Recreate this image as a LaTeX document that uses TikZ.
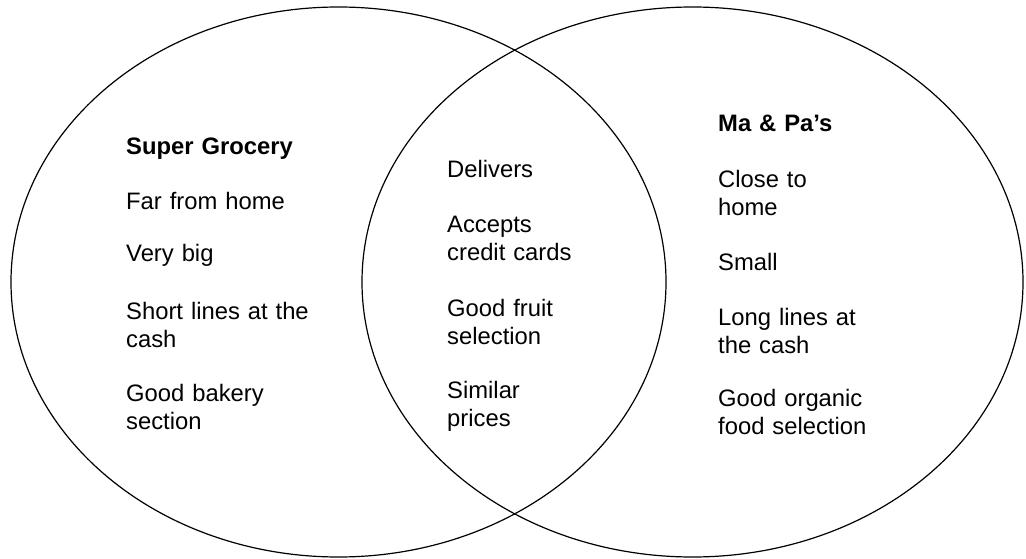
\documentclass[tikz,border=0pt]{standalone}
\usepackage{fontspec}
\setmainfont{Liberation Sans}
\begin{document}
\begin{tikzpicture}[x=1pt,y=-1pt,
  set/.style={draw=black,line width=1.2pt},
  lbl/.style={anchor=base west,inner sep=0pt,text width=200pt,align=left,font=\fontsize{23.8}{28}\selectfont},
  head/.style={lbl,font=\fontsize{23.8}{28}\selectfont\bfseries}]
\useasboundingbox[fill=white] (0,0) rectangle (1026,559);
\draw[set] (338.5,282) ellipse [x radius=327.5, y radius=275];
\draw[set] (692.5,282) ellipse [x radius=330.5, y radius=275];
% left set
\node[head] (sg) at (126,155) {Super Grocery};
\node[lbl] (far) at (126,209) {Far from home};
\node[lbl] (big) at (126,261) {Very big};
\node[lbl] (short) at (126,319) {Short lines at the\\cash};
\node[lbl] (bake) at (126,401) {Good bakery\\section};
% both
\node[lbl] (del) at (447,178) {Delivers};
\node[lbl] (acc) at (447,233) {Accepts\\credit cards};
\node[lbl] (fruit) at (447,316) {Good fruit\\selection};
\node[lbl] (sim) at (447,398) {Similar\\prices};
% right set
\node[head] (mp) at (718,132) {Ma \& Pa’s};
\node[lbl] (close) at (718,188) {Close to\\home};
\node[lbl] (small) at (718,270) {Small};
\node[lbl] (long) at (718,325) {Long lines at\\the cash};
\node[lbl] (org) at (718,406) {Good organic\\food selection};
\end{tikzpicture}
\end{document}
